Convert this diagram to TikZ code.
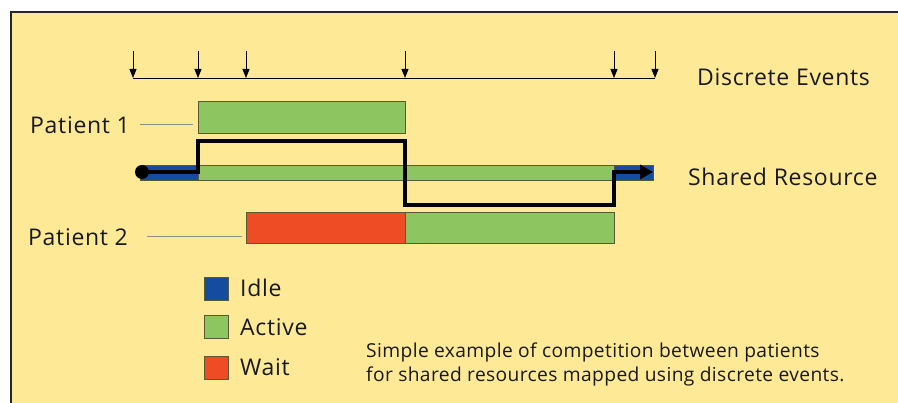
\documentclass[tikz,border=0pt]{standalone}
\usepackage{fontspec}
\setmainfont{Open Sans}
\newfontfamily\lblfont[LetterSpace=3]{Open Sans}
\newfontfamily\capfont[LetterSpace=2]{Open Sans}
\usetikzlibrary{arrows.meta}
\definecolor{panel}{RGB}{253,233,150}
\definecolor{actgreen}{RGB}{141,197,96}
\definecolor{idleblue}{RGB}{22,76,160}
\definecolor{waitred}{RGB}{238,76,36}
\definecolor{boxedge}{RGB}{90,90,50}
\tikzset{
  bar/.style={draw=boxedge, line width=0.8pt, inner sep=0pt, outer sep=0pt},
  evt/.style={-{Triangle[width=7pt,length=9pt]}, line width=0.9pt},
  lbl/.style={inner sep=0pt, text=black!90, font=\lblfont\fontsize{23}{26}\selectfont},
  leg/.style={bar, minimum width=24pt, minimum height=23pt},
  tie/.style={draw=black!45, line width=0.6pt},
  path/.style={line width=3.5pt, line join=miter},
}
\begin{document}
\begin{tikzpicture}[x=1pt,y=-1pt]
\useasboundingbox (0,0) rectangle (898,403);
\fill[white] (0,0) rectangle (898,403);
\fill[panel] (11,12) rectangle (898,403);
\draw[line width=1.2pt, black!85] (11,403) -- (11,12) -- (898,12);

% event axis
\coordinate (a0) at (133,78);
\coordinate (a1) at (655,78);
\draw[line width=0.9pt] (a0) -- (a1);
\foreach \x [count=\i] in {133,198,246,405,614,655}{
  \coordinate (et\i) at (\x,51);
  \coordinate (eb\i) at (\x,78);
  \draw[evt] (et\i) -- (eb\i);
}
\node[lbl, anchor=west] (de) at (697,77) {Discrete Events};

% patient 1
\node[bar, fill=actgreen, minimum width=207pt, minimum height=32pt] (p1) at (301.5,117) {};
\node[lbl, anchor=west] (p1l) at (30,125) {Patient 1};
\coordinate (p1a) at (140,124);
\coordinate (p1b) at (193,124);
\draw[tie] (p1a) -- (p1b);

% shared resource bar
\node[bar, fill=idleblue, minimum width=58pt, minimum height=15pt] (sb1) at (169,172.5) {};
\node[bar, fill=actgreen, minimum width=416pt, minimum height=15pt] (sg) at (406,172.5) {};
\node[bar, fill=idleblue, minimum width=39pt, minimum height=15pt] (sb2) at (633.5,172.5) {};
\node[lbl, anchor=west] (srl) at (688,177) {Shared Resource};

% patient 2
\node[bar, fill=waitred, minimum width=159pt, minimum height=31pt] (p2r) at (325.5,227.5) {};
\node[bar, fill=actgreen, minimum width=209pt, minimum height=31pt] (p2g) at (509.5,227.5) {};
\node[lbl, anchor=west] (p2l) at (28,237) {Patient 2};
\coordinate (p2a) at (147,236);
\coordinate (p2b) at (242,236);
\draw[tie] (p2a) -- (p2b);

% resource path
\node[circle, fill=black, minimum size=14pt, inner sep=0pt] (dot) at (142,172) {};
\coordinate (q1) at (198,172);
\coordinate (q2) at (198,141);
\coordinate (q3) at (405,141);
\coordinate (q4) at (405,205);
\coordinate (q5) at (614,205);
\coordinate (q6) at (614,172);
\coordinate (q7) at (653,172);
\draw[path, -{Triangle[width=14pt,length=13pt]}] (dot.center) -- (q1) -- (q2) -- (q3) -- (q4) -- (q5) -- (q6) -- (q7);

% legend
\node[leg, fill=idleblue] (li) at (216,288.5) {};
\node[leg, fill=actgreen] (la) at (216,327) {};
\node[leg, fill=waitred] (lw) at (216,367.5) {};
\node[lbl, anchor=west] (lit) at (240,288) {Idle};
\node[lbl, anchor=west] (lat) at (240,327) {Active};
\node[lbl, anchor=west] (lwt) at (240,367) {Wait};

% caption
\node[inner sep=0pt, anchor=base west, align=left, text=black!90, font=\capfont\fontsize{19.2}{24.5}\selectfont] (cap) at (366,382)
  {Simple example of competition between patients\\for shared resources mapped using discrete events.};
\end{tikzpicture}
\end{document}
